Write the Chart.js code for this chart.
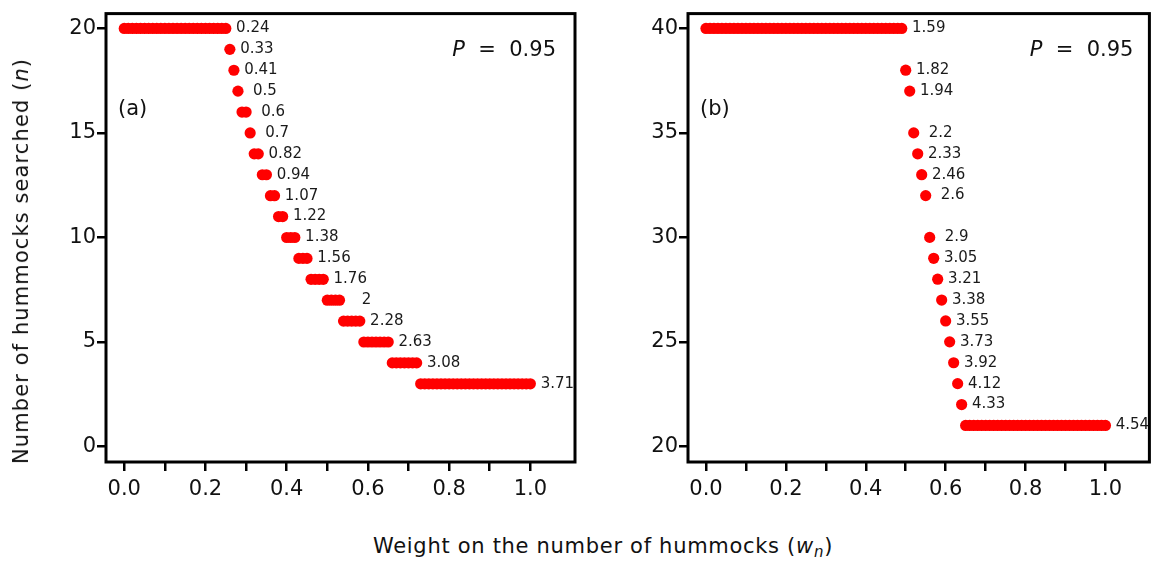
<!DOCTYPE html>
<html><head><meta charset="utf-8">
<script src="https://cdn.jsdelivr.net/npm/chart.js@4.4.0/dist/chart.umd.min.js"></script>
<style>
body{margin:0;background:#fff;width:1155px;height:563px;overflow:hidden;position:relative;font-family:"DejaVu Sans",sans-serif;}
#ca{position:absolute;left:0;top:0;}
#cb{position:absolute;left:600px;top:0;}
#ytitle{position:absolute;left:21px;top:261px;transform:translate(-50%,-50%) rotate(-90deg);white-space:nowrap;font-size:21px;letter-spacing:1.1px;color:#111;}
#xtitle{position:absolute;left:603px;top:547px;transform:translate(-50%,-50%);white-space:nowrap;font-size:21px;letter-spacing:0.7px;color:#111;}
sub{font-size:15px;vertical-align:-4px;}
</style></head>
<body>
<canvas id="ca" width="590" height="505"></canvas>
<canvas id="cb" width="555" height="505"></canvas>
<div id="ytitle">Number of hummocks searched (<i>n</i>)</div>
<div id="xtitle">Weight on the number of hummocks (<i>w<sub>n</sub></i>)</div>
<script>
// Weight grid (x values)
const wGrid = [0.00,0.01,0.02,0.03,0.04,0.05,0.06,0.07,0.08,0.09,
0.10,0.11,0.12,0.13,0.14,0.15,0.16,0.17,0.18,0.19,
0.20,0.21,0.22,0.23,0.24,0.25,0.26,0.27,0.28,0.29,
0.30,0.31,0.32,0.33,0.34,0.35,0.36,0.37,0.38,0.39,
0.40,0.41,0.42,0.43,0.44,0.45,0.46,0.47,0.48,0.49,
0.50,0.51,0.52,0.53,0.54,0.55,0.56,0.57,0.58,0.59,
0.60,0.61,0.62,0.63,0.64,0.65,0.66,0.67,0.68,0.69,
0.70,0.71,0.72,0.73,0.74,0.75,0.76,0.77,0.78,0.79,
0.80,0.81,0.82,0.83,0.84,0.85,0.86,0.87,0.88,0.89,
0.90,0.91,0.92,0.93,0.94,0.95,0.96,0.97,0.98,0.99,
1.00];
// Panel (a): number of hummocks searched
const nA = [20,20,20,20,20,20,20,20,20,20,
20,20,20,20,20,20,20,20,20,20,
20,20,20,20,20,20,19,18,17,16,
16,15,14,14,13,13,12,12,11,11,
10,10,10,9,9,9,8,8,8,8,
7,7,7,7,6,6,6,6,6,5,
5,5,5,5,5,5,4,4,4,4,
4,4,4,3,3,3,3,3,3,3,
3,3,3,3,3,3,3,3,3,3,
3,3,3,3,3,3,3,3,3,3,
3];
const labelsA = ["0.24","0.33","0.41","0.5","0.6","0.7","0.82","0.94","1.07","1.22","1.38","1.56","1.76","2","2.28","2.63","3.08","3.71"];
// Panel (b)
const nB = [40,40,40,40,40,40,40,40,40,40,
40,40,40,40,40,40,40,40,40,40,
40,40,40,40,40,40,40,40,40,40,
40,40,40,40,40,40,40,40,40,40,
40,40,40,40,40,40,40,40,40,40,
38,37,35,34,33,32,30,29,28,27,
26,25,24,23,22,21,21,21,21,21,
21,21,21,21,21,21,21,21,21,21,
21,21,21,21,21,21,21,21,21,21,
21,21,21,21,21,21,21,21,21,21,
21];
const labelsB = ["1.59","1.82","1.94","2.2","2.33","2.46","2.6","2.9","3.05","3.21","3.38","3.55","3.73","3.92","4.12","4.33","4.54"];

const xTickValues = [0,0.1,0.2,0.3,0.4,0.5,0.6,0.7,0.8,0.9,1.0];
const xTickLabels = ["0.0","","0.2","","0.4","","0.6","","0.8","","1.0"];
const yTicksA = [0,5,10,15,20];
const yTickLabelsA = ["0","5","10","15","20"];
const yTicksB = [20,25,30,35,40];
const yTickLabelsB = ["20","25","30","35","40"];
const pText = "0.95";

const FONT = '"DejaVu Sans"';

const decor = {
  id:'decor',
  afterDatasetsDraw(chart, args, o){
    const {ctx, chartArea:a} = chart;
    const x = chart.scales.x, y = chart.scales.y;
    ctx.save();
    ctx.strokeStyle='#000'; ctx.lineWidth=3;
    ctx.strokeRect(a.left, a.top, a.right-a.left, a.bottom-a.top);
    ctx.font='15px '+FONT; ctx.fillStyle='#1a1a1a'; ctx.textAlign='center'; ctx.textBaseline='middle';
    let k=0;
    for (let i=0;i<o.n.length;i++){
      if (i===o.n.length-1 || o.n[i+1]!==o.n[i]){
        ctx.fillText(o.labels[k++], x.getPixelForValue(o.w[i])+27, y.getPixelForValue(o.n[i]));
      }
    }
    ctx.fillStyle='#111';
    ctx.font='21px '+FONT; ctx.textAlign='left';
    ctx.fillText(o.tag, a.left+12, a.top+96);
    const rx = a.right - o.pRight;
    const rest = '  =  ' + pText;
    ctx.textAlign='right';
    ctx.fillText(rest, rx, a.top+37);
    const wr = ctx.measureText(rest).width;
    ctx.font='italic 21px '+FONT;
    ctx.fillText('P', rx-wr, a.top+37);
    ctx.restore();
  }
};

function makeChart(id, n, labels, yMin, yMax, yTicks, yTickLabels, yW, padR, tag, pRight){
  return new Chart(document.getElementById(id), {
    type:'scatter',
    data:{datasets:[{
      data: wGrid.map((w,i)=>({x:w,y:n[i]})),
      pointRadius:5.6, pointHoverRadius:5.6, borderWidth:0,
      backgroundColor:'#ff0000', pointBackgroundColor:'#ff0000', showLine:false
    }]},
    options:{
      responsive:false, animation:false, devicePixelRatio:1,
      layout:{padding:{top:10,right:padR,left:0,bottom:0}},
      plugins:{legend:{display:false},tooltip:{enabled:false},
        decor:{n:n,w:wGrid,labels:labels,tag:tag,pRight:pRight}},
      scales:{
        x:{type:'linear',min:-0.045,max:1.11,
          afterBuildTicks:s=>{s.ticks=xTickValues.map(v=>({value:v}));},
          afterFit:s=>{s.height=43;},
          ticks:{callback:(v,i)=>xTickLabels[i],font:{family:'DejaVu Sans',size:21},color:'#111',padding:6,maxRotation:0,autoSkip:false},
          grid:{drawOnChartArea:false,drawTicks:true,tickLength:9,color:'#000',lineWidth:2.5},
          border:{display:false}},
        y:{type:'linear',min:yMin,max:yMax,
          afterBuildTicks:s=>{s.ticks=yTicks.map(v=>({value:v}));},
          afterFit:s=>{s.width=yW;},
          ticks:{callback:(v,i)=>yTickLabels[i],font:{family:'DejaVu Sans',size:21},color:'#111',padding:1,autoSkip:false},
          grid:{drawOnChartArea:false,drawTicks:true,tickLength:9,color:'#000',lineWidth:2.5},
          border:{display:false}}
      }
    },
    plugins:[decor]
  });
}
makeChart('ca', nA, labelsA, -0.74, 20.71, yTicksA, yTickLabelsA, 106, 15, '(a)', 19);
makeChart('cb', nB, labelsB, 19.25, 40.71, yTicksB, yTickLabelsB, 88, 2, '(b)', 16);
</script>
</body></html>
